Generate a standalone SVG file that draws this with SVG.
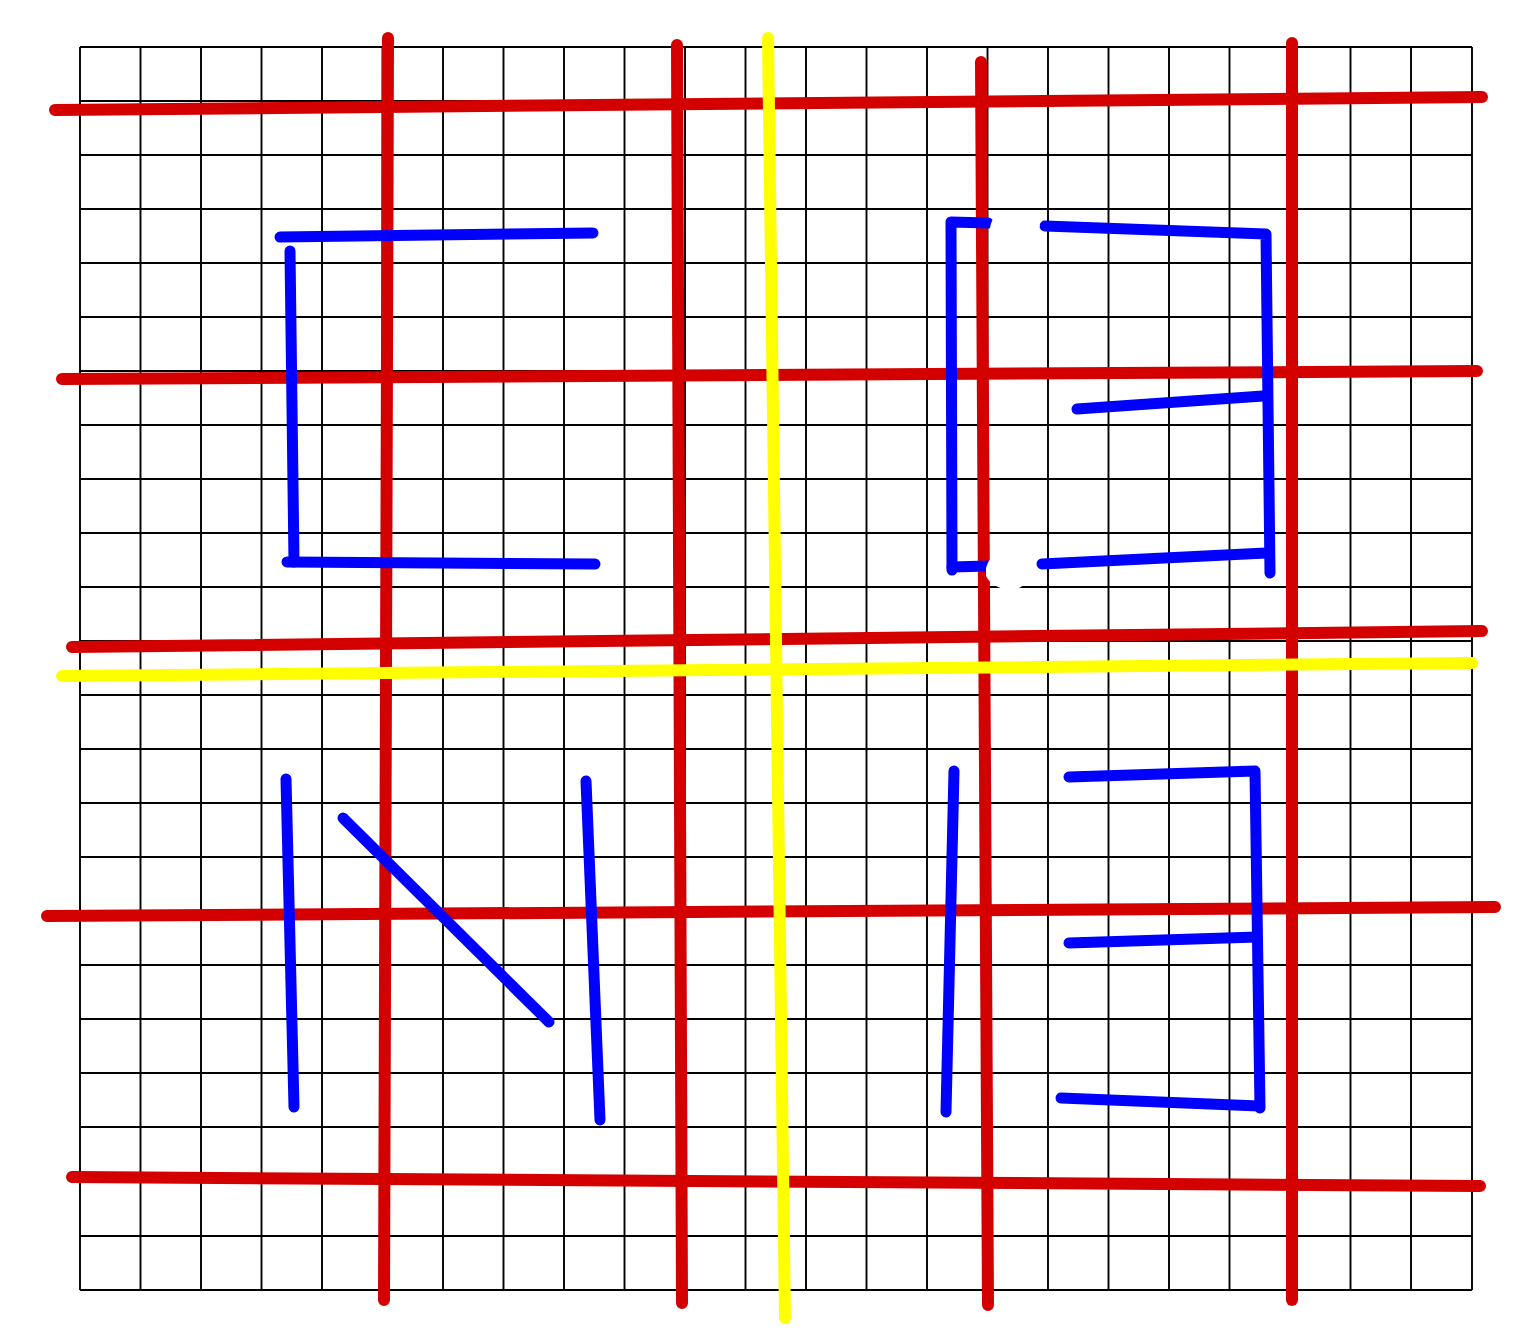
<svg xmlns="http://www.w3.org/2000/svg" width="1537" height="1344" viewBox="0 0 1537 1344">
<style>
.g{stroke:#000;stroke-width:1.9;fill:none}
.r{stroke:#d40000;stroke-width:12;stroke-linecap:round;fill:none}
.y{stroke:#ffff00;stroke-width:12;stroke-linecap:round;fill:none}
.b{stroke:#0000ff;stroke-width:11;stroke-linecap:round;stroke-linejoin:round;fill:none}
</style>
<rect width="1537" height="1344" fill="#fff"/>
<g id="grid" class="g">
<path d="M80 47V1290M140.5 47V1290M201 47V1290M261.5 47V1290M322 47V1290M382.5 47V1290M443 47V1290M503.5 47V1290M564 47V1290M624.5 47V1290M685 47V1290M745.5 47V1290M806 47V1290M866.5 47V1290M927 47V1290M987.5 47V1290M1048 47V1290M1108.5 47V1290M1169 47V1290M1229.5 47V1290M1290 47V1290M1350.5 47V1290M1411 47V1290M1472 47V1290"/>
<path d="M80 47H1472M80 101H1472M80 155H1472M80 209H1472M80 263H1472M80 317H1472M80 371H1472M80 425H1472M80 479H1472M80 533H1472M80 587H1472M80 641H1472M80 695H1472M80 749H1472M80 803H1472M80 857H1472M80 911H1472M80 965H1472M80 1019H1472M80 1073H1472M80 1127H1472M80 1182H1472M80 1236H1472M80 1290H1472"/>
</g>
<g id="red-lines" class="r">
<path d="M55 110L1482 97"/>
<path d="M62 379L1477 371"/>
<path d="M72 647L1482 631"/>
<path d="M47 916L1495 907"/>
<path d="M72 1177L1480 1186"/>
<path d="M388 38L384 1300"/>
<path d="M677 45L682 1303"/>
<path d="M981 62L988 1305"/>
<path d="M1292 43L1292 1300"/>
</g>
<g id="yellow-lines" class="y">
<path d="M768 38L785 1318"/>
<path d="M62 676L1472 663"/>
</g>
<g id="blue-upper-left" class="b">
<path d="M280 237L593 233"/>
<path d="M290 251L294 562"/>
<path d="M287 562L595 564"/>
</g>
<g id="blue-upper-right" class="b">
<path d="M952 570L951 222L988 223"/>
<path d="M1045 226L1266 234L1270 573"/>
<path d="M1077 409L1263 396"/>
<path d="M952 567L988 566"/>
<path d="M1042 564L1266 553"/>
</g>
<g id="white-marks" fill="#fff">
<path d="M990 228Q992 212 1012 210Q1035 212 1040 226Q1030 238 1010 238Q994 238 990 228Z"/>
<path d="M986 568Q990 552 1008 552Q1028 554 1032 568Q1030 588 1010 590Q992 588 986 576Z"/>
</g>
<g id="blue-lower-left" class="b">
<path d="M286 779L294 1107"/>
<path d="M343 818L549 1022"/>
<path d="M586 781L600 1120"/>
</g>
<g id="blue-lower-right" class="b">
<path d="M954 771L946 1112"/>
<path d="M1069 777L1255 771L1260 1108"/>
<path d="M1069 943L1257 937"/>
<path d="M1061 1098L1259 1106"/>
</g>
</svg>
